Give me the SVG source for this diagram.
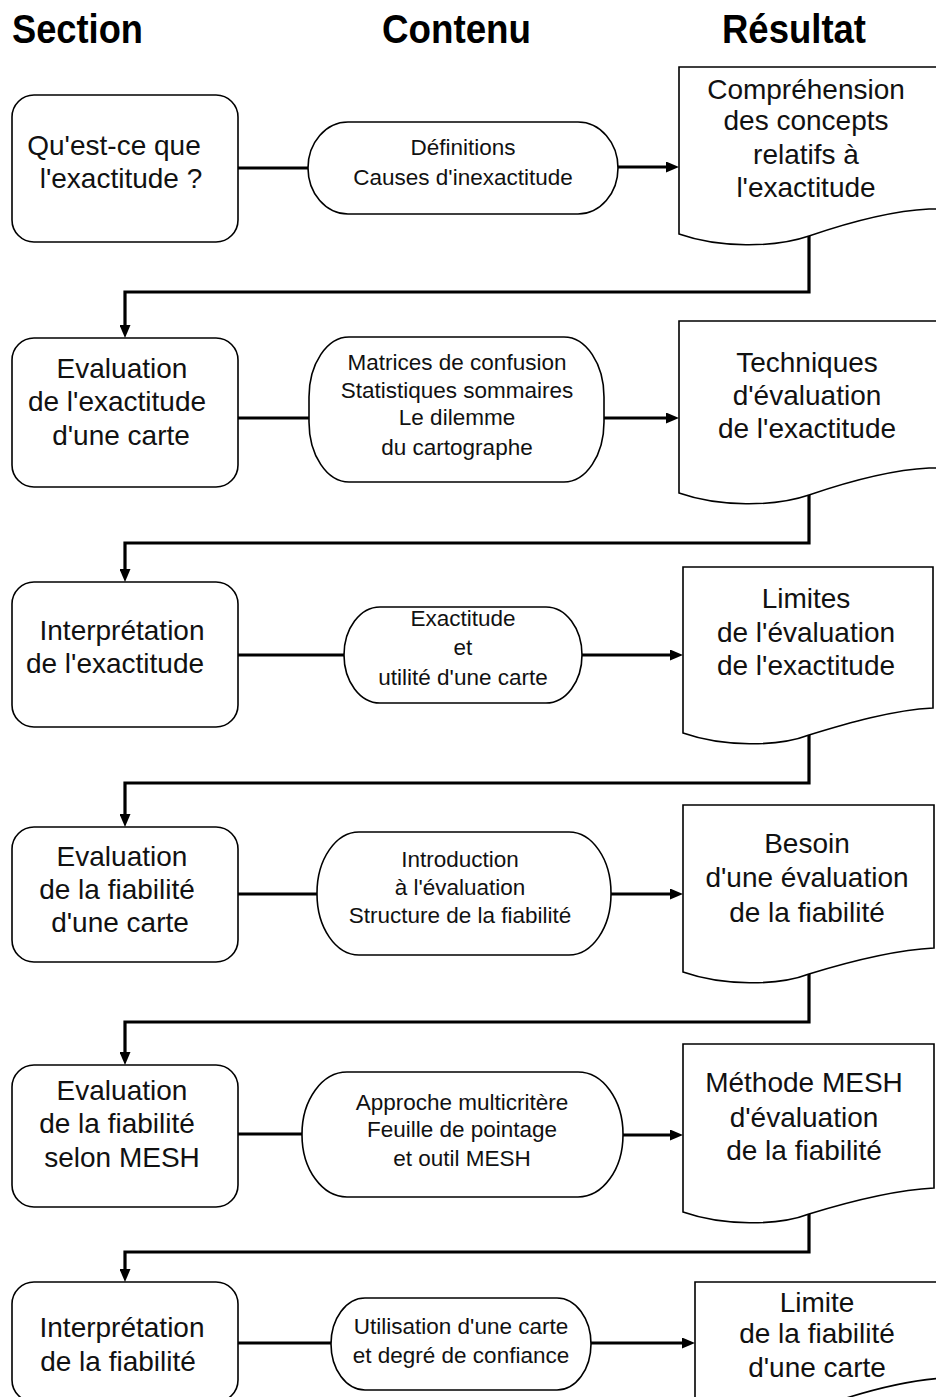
<svg xmlns="http://www.w3.org/2000/svg" width="936" height="1397" viewBox="0 0 936 1397">
<defs>
<marker id="arr" viewBox="0 0 13 11" refX="7" refY="5.5" markerWidth="13" markerHeight="11" markerUnits="userSpaceOnUse" orient="auto"><path d="M0,0 L13,5.5 L0,11 z" fill="#000"/></marker>
</defs>
<style>
.hdr{font-family:"Liberation Sans",Arial,sans-serif;font-weight:bold;font-size:40px;fill:#000}
.sec{font-family:"Liberation Sans",Arial,sans-serif;font-size:28px;fill:#111;text-anchor:middle}
.con{font-family:"Liberation Sans",Arial,sans-serif;font-size:22.5px;fill:#111;text-anchor:middle}
.res{font-family:"Liberation Sans",Arial,sans-serif;font-size:28px;fill:#111;text-anchor:middle}
.shape{fill:#fff;stroke:#000;stroke-width:1.6}
.conn{fill:none;stroke:#000;stroke-width:3.2}
</style>
<rect width="936" height="1397" fill="#fff"/>

<g id="headers">
<text class="hdr" x="12" y="43" textLength="131" lengthAdjust="spacingAndGlyphs">Section</text>
<text class="hdr" x="382" y="43" textLength="149" lengthAdjust="spacingAndGlyphs">Contenu</text>
<text class="hdr" x="722" y="43" textLength="144" lengthAdjust="spacingAndGlyphs">Résultat</text>
</g>

<g id="connectors">
<path class="conn" d="M238,168 H308"/>
<path class="conn" d="M618,167 H673" marker-end="url(#arr)"/>
<path class="conn" d="M809,236 V292 H125 V332" marker-end="url(#arr)"/>
<path class="conn" d="M238,418 H309"/>
<path class="conn" d="M604,418 H673" marker-end="url(#arr)"/>
<path class="conn" d="M809,495 V543 H125 V576" marker-end="url(#arr)"/>
<path class="conn" d="M238,655 H344"/>
<path class="conn" d="M582,655 H677" marker-end="url(#arr)"/>
<path class="conn" d="M809,735 V783 H125 V821" marker-end="url(#arr)"/>
<path class="conn" d="M238,894 H317"/>
<path class="conn" d="M611,894 H677" marker-end="url(#arr)"/>
<path class="conn" d="M809,974 V1022 H125 V1059" marker-end="url(#arr)"/>
<path class="conn" d="M238,1134 H302"/>
<path class="conn" d="M623,1135 H677" marker-end="url(#arr)"/>
<path class="conn" d="M809,1214 V1252 H125 V1276" marker-end="url(#arr)"/>
<path class="conn" d="M238,1343 H331"/>
<path class="conn" d="M591,1343 H689" marker-end="url(#arr)"/>
</g>

<!-- Row 1 -->
<g id="section1">
<rect class="shape" x="12" y="95" width="226" height="147" rx="22"/>
<text class="sec" x="114" y="155">Qu'est-ce que</text>
<text class="sec" x="121" y="188">l'exactitude ?</text>
</g>
<g id="contenu1">
<rect class="shape" x="308" y="122" width="310" height="92" rx="40" ry="46"/>
<text class="con" x="463" y="155">Définitions</text>
<text class="con" x="463" y="185">Causes d'inexactitude</text>
</g>
<g id="resultat1">
<path class="shape" d="M679,67 H942 V209 H929 C889,211 844,224 809,236 C774,248 719,248 679,234 Z"/>
<text class="res" x="806" y="99">Compréhension</text>
<text class="res" x="806" y="130">des concepts</text>
<text class="res" x="806" y="164">relatifs à</text>
<text class="res" x="806" y="197">l'exactitude</text>
</g>

<!-- Row 2 -->
<g id="section2">
<rect class="shape" x="12" y="338" width="226" height="149" rx="22"/>
<text class="sec" x="122" y="378">Evaluation</text>
<text class="sec" x="117" y="411">de l'exactitude</text>
<text class="sec" x="121" y="445">d'une carte</text>
</g>
<g id="contenu2">
<rect class="shape" x="309" y="337" width="295" height="145" rx="40" ry="60"/>
<text class="con" x="457" y="370">Matrices de confusion</text>
<text class="con" x="457" y="398">Statistiques sommaires</text>
<text class="con" x="457" y="425">Le dilemme</text>
<text class="con" x="457" y="455">du cartographe</text>
</g>
<g id="resultat2">
<path class="shape" d="M679,321 H942 V468 H929 C889,470 844,483 809,495 C774,507 719,507 679,493 Z"/>
<text class="res" x="807" y="372">Techniques</text>
<text class="res" x="807" y="405">d'évaluation</text>
<text class="res" x="807" y="438">de l'exactitude</text>
</g>

<!-- Row 3 -->
<g id="section3">
<rect class="shape" x="12" y="582" width="226" height="145" rx="22"/>
<text class="sec" x="122" y="640">Interprétation</text>
<text class="sec" x="115" y="673">de l'exactitude</text>
</g>
<g id="contenu3">
<rect class="shape" x="344" y="607" width="238" height="96" rx="36" ry="48"/>
<text class="con" x="463" y="626">Exactitude</text>
<text class="con" x="463" y="655">et</text>
<text class="con" x="463" y="685">utilité d'une carte</text>
</g>
<g id="resultat3">
<path class="shape" d="M683,567 H933 V708 C893,710 848,723 809,735 C778,747 723,747 683,733 Z"/>
<text class="res" x="806" y="608">Limites</text>
<text class="res" x="806" y="642">de l'évaluation</text>
<text class="res" x="806" y="675">de l'exactitude</text>
</g>

<!-- Row 4 -->
<g id="section4">
<rect class="shape" x="12" y="827" width="226" height="135" rx="22"/>
<text class="sec" x="122" y="866">Evaluation</text>
<text class="sec" x="117" y="899">de la fiabilité</text>
<text class="sec" x="120" y="932">d'une carte</text>
</g>
<g id="contenu4">
<rect class="shape" x="317" y="832" width="294" height="123" rx="42" ry="61"/>
<text class="con" x="460" y="867">Introduction</text>
<text class="con" x="460" y="895">à l'évaluation</text>
<text class="con" x="460" y="923">Structure de la fiabilité</text>
</g>
<g id="resultat4">
<path class="shape" d="M683,805 H934 V948 C894,950 848,962 809,974 C778,986 723,986 683,972 Z"/>
<text class="res" x="807" y="853">Besoin</text>
<text class="res" x="807" y="887">d'une évaluation</text>
<text class="res" x="807" y="922">de la fiabilité</text>
</g>

<!-- Row 5 -->
<g id="section5">
<rect class="shape" x="12" y="1065" width="226" height="142" rx="22"/>
<text class="sec" x="122" y="1100">Evaluation</text>
<text class="sec" x="117" y="1133">de la fiabilité</text>
<text class="sec" x="122" y="1167">selon MESH</text>
</g>
<g id="contenu5">
<rect class="shape" x="302" y="1072" width="321" height="125" rx="45" ry="62"/>
<text class="con" x="462" y="1110">Approche multicritère</text>
<text class="con" x="462" y="1137">Feuille de pointage</text>
<text class="con" x="462" y="1166">et outil MESH</text>
</g>
<g id="resultat5">
<path class="shape" d="M683,1044 H934 V1188 C894,1190 848,1202 809,1214 C778,1226 723,1226 683,1212 Z"/>
<text class="res" x="804" y="1092">Méthode MESH</text>
<text class="res" x="804" y="1127">d'évaluation</text>
<text class="res" x="804" y="1160">de la fiabilité</text>
</g>

<!-- Row 6 -->
<g id="section6">
<rect class="shape" x="12" y="1282" width="226" height="120" rx="22"/>
<text class="sec" x="122" y="1337">Interprétation</text>
<text class="sec" x="118" y="1371">de la fiabilité</text>
</g>
<g id="contenu6">
<rect class="shape" x="331" y="1298" width="260" height="92" rx="34" ry="46"/>
<text class="con" x="461" y="1334">Utilisation d'une carte</text>
<text class="con" x="461" y="1363">et degré de confiance</text>
</g>
<g id="resultat6">
<path class="shape" d="M695,1282 H942 V1378 H945 C905,1380 860,1393 825,1405 C790,1417 735,1417 695,1403 Z"/>
<text class="res" x="817" y="1312">Limite</text>
<text class="res" x="817" y="1343">de la fiabilité</text>
<text class="res" x="817" y="1377">d'une carte</text>
</g>
</svg>
